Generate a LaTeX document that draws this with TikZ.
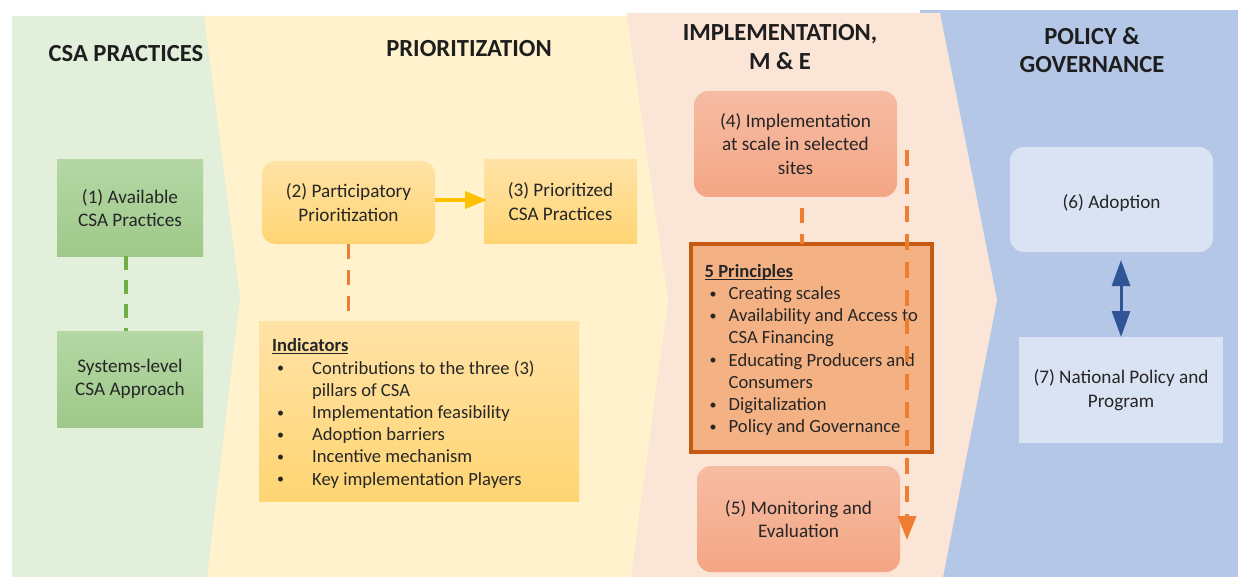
\documentclass[tikz,border=0pt]{standalone}
\usepackage{fontspec}
\setmainfont{Carlito}
\usetikzlibrary{arrows.meta,calc}

% stage band colours
\definecolor{bandgreen}{HTML}{E2EFDA}
\definecolor{bandyellow}{HTML}{FFF2CC}
\definecolor{bandpeach}{HTML}{FBE5D6}
\definecolor{bandblue}{HTML}{B4C7E7}
% box colours
\definecolor{greentop}{HTML}{B4D7A4}
\definecolor{greenbot}{HTML}{9FC98A}
\definecolor{goldtop}{HTML}{FFE2A6}
\definecolor{goldbot}{HTML}{FFD573}
\definecolor{salmontop}{HTML}{F6BCA3}
\definecolor{salmonbot}{HTML}{F4A685}
\definecolor{princfill}{HTML}{F4B183}
\definecolor{princline}{HTML}{C55A11}
\definecolor{paleblue}{HTML}{DAE3F3}
% connector colours
\definecolor{dashgreen}{HTML}{70AD47}
\definecolor{dashorange}{HTML}{ED7D31}
\definecolor{arrowgold}{HTML}{FFC000}
\definecolor{arrowblue}{HTML}{2F5597}
\definecolor{ink}{HTML}{262626}

% word-style underline sitting just under the baseline
\newcommand\ulword[1]{\setbox0\hbox{#1}\rlap{\rule[-2.4pt]{\wd0}{1pt}}\box0}
% small list bullet
\newcommand\dotmark{\raisebox{1.3pt}{\fontsize{14}{14}\selectfont\textbullet}}

\tikzset{
  title/.style={font=\fontsize{24.6}{28.5}\selectfont\bfseries, text=ink!80!black,
    align=center, inner sep=0pt},
  stage/.style={inner sep=0pt, outer sep=0pt, align=center, text=ink,
    font=\fontsize{19.2}{23.3}\selectfont,
    execute at begin node={\rule{0pt}{21pt}}},
  greenbox/.style={stage, top color=greentop, bottom color=greenbot,
    minimum width=146pt, minimum height=96pt},
  goldbox/.style={stage, top color=goldtop, bottom color=goldbot,
    minimum height=83pt},
  salmonbox/.style={stage, rounded corners=14pt, top color=salmontop,
    bottom color=salmonbot, minimum width=203pt, minimum height=106pt},
  bluebox/.style={stage, fill=paleblue, minimum width=203pt, minimum height=105pt},
  princbox/.style={stage, fill=princfill, draw=princline, line width=4pt,
    minimum width=241pt, minimum height=208pt},
  listtext/.style={inner sep=0pt, align=left, text=ink,
    font=\fontsize{18.6}{22.2}\selectfont},
  greendash/.style={draw=dashgreen, line width=3.5pt, dash pattern=on 14pt off 10pt},
  orangedash/.style={draw=dashorange, line width=3.5pt, dash pattern=on 15pt off 11pt},
  goldarrow/.style={draw=arrowgold, line width=4pt,
    -{Triangle[length=22pt,width=17pt]}},
  bluearrow/.style={draw=arrowblue, line width=3pt,
    {Triangle[length=26pt,width=18pt]}-{Triangle[length=26pt,width=18pt]}},
  longarrow/.style={draw=dashorange, line width=3.5pt,
    dash pattern=on 16pt off 12pt, -{Triangle[length=24pt,width=18pt]}},
}

\begin{document}
\begin{tikzpicture}[x=1pt, y=-1pt]
\useasboundingbox (0,0) rectangle (1238,577);

% chevron bands, back to front
\fill[bandblue] (920,10) -- (1238,10) -- (1238,577) -- (920,577) -- cycle;
\fill[bandpeach] (627,13) -- (940,13) -- (997,300) -- (943,577) -- (627,577) -- cycle;
\fill[bandyellow] (200,16) -- (627,16) -- (668,300) -- (631,577) -- (200,577) -- cycle;
\fill[bandgreen] (12,16) -- (204,16) -- (240,297) -- (207,577) -- (12,577) -- cycle;

% stage headings
\node[title] (h1) at (126,54) {CSA PRACTICES};
\node[title] (h2) at (469,49) {PRIORITIZATION};
\node[title] (h3) at (780,47) {IMPLEMENTATION,\\M \& E};
\node[title] (h4) at (1092,50) {POLICY \&\\GOVERNANCE};

% CSA practices
\node[greenbox] (n1) at (130,208) {(1) Available\\CSA Practices};
\node[greenbox] (n1b) at (130,379) {Systems-level\\CSA Approach};

% prioritization
\node[goldbox, rounded corners=13pt, minimum width=173pt] (n2) at (348.5,202.5)
  {(2) Participatory\\Prioritization};
\node[goldbox, minimum width=153pt] (n3) at (560.5,201.5)
  {(3) Prioritized\\CSA Practices};
\node[stage, top color=goldtop, bottom color=goldbot, minimum width=320pt,
  minimum height=180pt] (ind) at (419,411) {};
\node[listtext, anchor=west] (indlist) at ([xshift=13pt,yshift=-2.5pt]ind.west) {%
  \ulword{\textbf{Indicators}}\\
  \hspace*{5pt}\makebox[35pt][l]{\dotmark}Contributions to the three (3)\\
  \hspace*{40pt}pillars of CSA\\
  \hspace*{5pt}\makebox[35pt][l]{\dotmark}Implementation feasibility\\
  \hspace*{5pt}\makebox[35pt][l]{\dotmark}Adoption barriers\\
  \hspace*{5pt}\makebox[35pt][l]{\dotmark}Incentive mechanism\\
  \hspace*{5pt}\makebox[35pt][l]{\dotmark}Key implementation Players};

% implementation, M & E
\node[salmonbox] (n4) at (795.5,144) {(4) Implementation\\at scale in selected\\sites};
\node[princbox] (prin) at (811,348) {};
\node[listtext, anchor=west] (prinlist) at ([xshift=14pt,yshift=-2pt]prin.west) {%
  \ulword{\textbf{5 Principles}}\\
  \hspace*{5pt}\makebox[19pt][l]{\dotmark}Creating scales\\
  \hspace*{5pt}\makebox[19pt][l]{\dotmark}Availability and Access to\\
  \hspace*{24pt}CSA Financing\\
  \hspace*{5pt}\makebox[19pt][l]{\dotmark}Educating Producers and\\
  \hspace*{24pt}Consumers\\
  \hspace*{5pt}\makebox[19pt][l]{\dotmark}Digitalization\\
  \hspace*{5pt}\makebox[19pt][l]{\dotmark}Policy and Governance};
\node[salmonbox] (n5) at (798.5,519) {(5) Monitoring and\\Evaluation};

% policy & governance
\node[bluebox, rounded corners=14pt] (n6) at (1111.5,199.5) {(6) Adoption};
\node[bluebox, minimum width=204pt, minimum height=106pt] (n7) at (1121,390)
  {(7) National Policy and\\Program};

% connectors
\draw[greendash] ($(n1.south)+(-4,0)$) -- ($(n1b.north)+(-4,0)$);
\draw[goldarrow] ([yshift=2.5pt]n2.east) -- ([xshift=3pt,yshift=2.5pt]n2.east -| n3.west);
\draw[orangedash] (n2.south) -- (n2.south |- ind.north);
\draw[orangedash, dash phase=15pt] ($(n4.south)+(6.5,0)$) -- ($(n4.south |- prin.north)+(6.5,0)$);
\coordinate (mtop) at (907,150);
\coordinate (mbot) at (907,540);
\draw[longarrow] (mtop) -- (mbot);
\draw[bluearrow] ($(n7.north |- n6.south)+(0,8)$) -- (n7.north);
\end{tikzpicture}
\end{document}
